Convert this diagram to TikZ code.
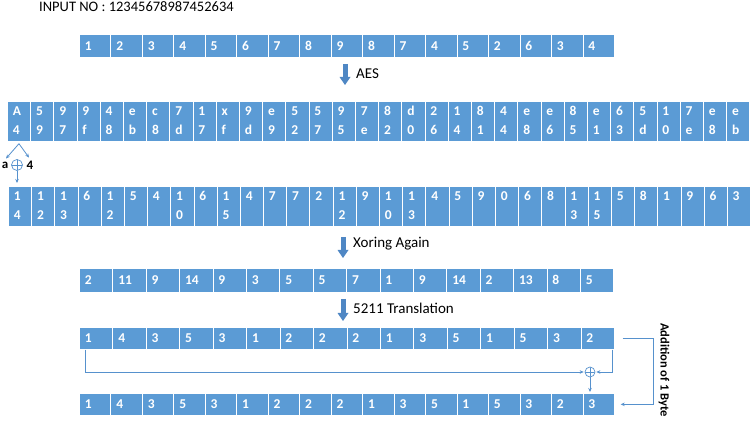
\documentclass[tikz,border=0pt]{standalone}
\usepackage{fontspec}
\setmainfont{Carlito}
\usepackage{tikz}
\usetikzlibrary{arrows.meta,calc,positioning}
\definecolor{cellblue}{RGB}{91,155,213}
\definecolor{lineblue}{RGB}{86,145,205}
\definecolor{arrowblue}{RGB}{79,135,196}
\newcommand\cellfont{\bfseries\fontsize{13.5}{15}\selectfont}
\newcommand\pairfont{\bfseries\fontsize{13.5}{19}\selectfont}
\newcommand\labfont{\fontsize{15}{17}\selectfont}

\begin{document}
\begin{tikzpicture}[x=1pt,y=-1pt,
  cell/.style={draw=white, line width=0.7pt, fill=cellblue, text=white, anchor=north west,
    inner xsep=5.5pt, inner ysep=0pt, align=left, font=\cellfont},
  pair/.style={cell, font=\pairfont},
  bigarrow/.style={draw=arrowblue, line width=5pt, -{Triangle[width=11pt,length=8pt,line width=0pt 0]}},
  link/.style={draw=lineblue, line width=0.8pt, -{Stealth[length=4pt,width=3.5pt]}},
  oplus/.style={circle, draw=lineblue, line width=0.7pt, minimum size=#1, inner sep=0pt,
    path picture={\draw[lineblue, line width=0.6pt] (path picture bounding box.north) -- (path picture bounding box.south)
      (path picture bounding box.west) -- (path picture bounding box.east);}},
  oplus/.default=9pt,
  lab/.style={font=\labfont, text=black, inner sep=0pt, anchor=west}]
\useasboundingbox (0,0) rectangle (753,427);

%Text: input number
\node[lab, font=\fontsize{14.5}{17}\selectfont] (inp) at (39,7) {INPUT NO : 12345678987452634};

%Row: input digits
\foreach \v [count=\i] in {1,2,3,4,5,6,7,8,9,8,7,4,5,2,6,3,4}
  \node[cell, text width=20.47pt, minimum height=23pt] (in\i) at ({79+(\i-1)*31.47},34) {\v};

%Arrow: AES
\coordinate (aesA) at (345,64);
\coordinate (aesB) at (345,85);
\draw[bigarrow] (aesA) -- (aesB);
\node[lab] (aeslbl) at (356,74) {AES};

%Row: AES output, two hex digits per cell
\foreach \t/\b [count=\i] in {A/4,5/9,9/7,9/f,4/8,e/b,c/8,7/d,1/7,x/f,9/d,e/9,5/2,5/7,9/5,7/e,
    8/2,d/0,2/6,1/4,8/1,4/4,e/8,e/6,8/5,e/1,6/3,5/d,1/0,7/e,e/8,e/b}
  \node[pair, text width=12.2pt, minimum height=40pt] (aes\i) at ({7+(\i-1)*23.2},101) {\strut\t\\\strut\b};

%XOR of the first pair
\node[lab, font=\bfseries\fontsize{13}{15}\selectfont, anchor=center] (ka) at (5,165) {a};
\node[oplus=11pt] (kx) at (17,165) {};
\node[lab, font=\bfseries\fontsize{13}{15}\selectfont, anchor=center] (kb) at (30,165) {4};
\coordinate (ksplit) at ([yshift=-2pt]aes1.south);
\draw[link] (ksplit) -- ([xshift=1pt,yshift=3pt]ka.north);
\draw[link] (ksplit) -- ([xshift=-1pt,yshift=3pt]kb.north);

%Row: XOR values
\foreach \t/\b [count=\i] in {1/4,1/2,1/3,6/{},1/2,5/{},4/{},1/0,6/{},1/5,4/{},7/{},7/{},2/{},1/2,9/{},
    1/0,1/3,4/{},5/{},9/{},0/{},6/{},8/{},1/3,1/5,5/{},8/{},1/{},9/{},6/{},3/{}}
  \node[pair, text width=12.2pt, minimum height=40pt] (xor\i) at ({8+(\i-1)*23.19},186) {\strut\t\\\strut\b};
\draw[link, shorten >=3pt] (kx.south) -- (kx.south |- xor1.north);

%Arrow: Xoring Again
\coordinate (xgA) at (343,237);
\coordinate (xgB) at (343,258);
\draw[bigarrow] (xgA) -- (xgB);
\node[lab] (xglbl) at (353,244) {Xoring Again};

%Row: XOR again
\foreach \v [count=\i] in {2,11,9,14,9,3,5,5,7,1,9,14,2,13,8,5}
  \node[cell, text width=22.4pt, minimum height=24pt] (xg\i) at ({79+(\i-1)*33.4},268) {\v};

%Arrow: 5211 Translation
\coordinate (trA) at (343,299);
\coordinate (trB) at (343,321);
\draw[bigarrow] (trA) -- (trB);
\node[lab] (trlbl) at (353,308) {5211 Translation};

%Row: translated digits
\foreach \v [count=\i] in {1,4,3,5,3,1,2,2,2,1,3,5,1,5,3,2}
  \node[cell, text width=22.44pt, minimum height=22pt] (tr\i) at ({79+(\i-1)*33.44},327) {\v};

%Row: output with check digit
\foreach \v [count=\i] in {1,4,3,5,3,1,2,2,2,1,3,5,1,5,3,2,3}
  \node[cell, text width=20.47pt, minimum height=22pt] (out\i) at ({79+(\i-1)*31.47},393) {\v};

%Check digit: first XOR last
\node[oplus=10pt] (cx) at (590,372) {};
\draw[link, shorten >=1pt] ([xshift=6pt]tr1.south west) |- (cx.west);
\draw[link, shorten >=1pt] ([xshift=-2pt]tr16.south east) |- (cx.east);
\draw[link, shorten >=1pt] (cx.south) -- (cx.south |- out17.north);

%Bracket: addition of one byte
\coordinate (brk) at (653,338);
\draw[link] ([xshift=8pt]tr16.east) -- (brk |- tr16.east) -- (brk |- out17.east) -- ([xshift=6pt]out17.east);
\node[rotate=-90, font=\bfseries\fontsize{12.5}{14}\selectfont, inner sep=0pt] (addlbl) at (664,370) {Addition of 1 Byte};

\end{tikzpicture}
\end{document}
